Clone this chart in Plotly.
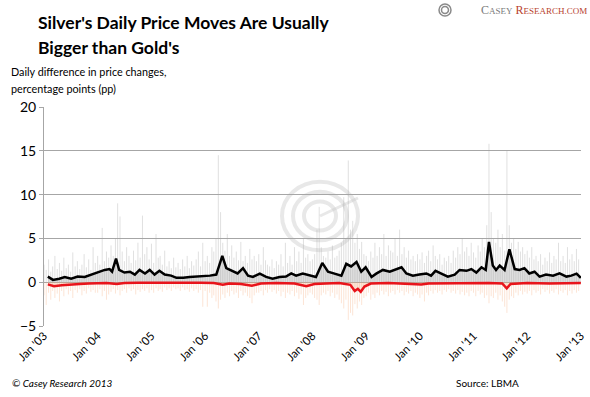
import plotly.graph_objects as go

# ---- data ----
years = list(range(2003, 2013))
tick_vals = [f"{y}-01-01" for y in range(2003, 2014)]
tick_text = [f"Jan '{str(y)[2:]}" for y in range(2003, 2014)]

# smoothed silver-minus-gold absolute daily move (black line)
black_dates = ["2003-01-27","2003-03-03","2003-04-15","2003-05-22","2003-07-05","2003-08-18","2003-10-05","2003-11-18",
               "2004-01-01","2004-02-18","2004-03-22","2004-04-08","2004-05-05","2004-05-26","2004-07-01","2004-08-08",
               "2004-09-10","2004-10-12","2004-11-18","2004-12-20","2005-01-22","2005-02-24","2005-04-01","2005-05-15",
               "2005-06-20","2005-08-05","2005-09-17","2005-11-03","2005-12-17","2006-02-03","2006-03-18","2006-04-28",
               "2006-05-25","2006-07-08","2006-08-10","2006-09-16","2006-10-20","2006-11-22","2007-01-08","2007-02-20",
               "2007-04-05","2007-05-22","2007-07-05","2007-08-10","2007-09-12","2007-10-27","2007-12-12","2008-01-25",
               "2008-03-08","2008-04-16","2008-05-30","2008-07-16","2008-08-18","2008-09-20","2008-10-27","2008-11-28",
               "2008-12-28","2009-02-06","2009-03-10","2009-04-24","2009-06-10","2009-07-23","2009-08-29","2009-10-01",
               "2009-11-14","2009-12-28","2010-02-14","2010-03-18","2010-04-17","2010-05-27","2010-07-10","2010-08-26",
               "2010-09-28","2010-11-14","2010-12-17","2011-01-20","2011-02-24","2011-03-25","2011-04-16","2011-05-12",
               "2011-06-03","2011-06-28","2011-07-31","2011-09-02","2011-10-08","2011-11-10","2011-12-13","2012-01-15",
               "2012-02-20","2012-03-25","2012-05-08","2012-06-25","2012-08-08","2012-09-24","2012-10-27","2012-12-02",
               "2012-12-31"]
black_vals = [0.64,0.26,0.4,0.6,0.4,0.64,0.6,0.87,
              1.1,1.4,1.5,1.2,2.7,1.4,1.1,1.2,
              0.87,1.4,1.0,1.4,0.87,1.3,0.87,0.75,
              0.5,0.5,0.6,0.64,0.64,0.75,0.87,3.0,
              1.6,1.3,1.0,1.6,0.75,0.6,0.98,0.6,
              0.4,0.6,0.64,1.0,0.75,0.98,0.75,0.6,
              2.2,1.2,0.98,0.75,2.1,1.8,2.3,1.2,
              1.7,0.6,0.98,1.4,1.2,1.5,1.7,1.0,
              0.75,0.87,1.0,0.75,1.3,0.98,0.64,0.87,
              1.4,1.3,1.5,1.1,1.7,1.4,4.6,1.9,
              1.4,1.9,1.4,3.75,1.5,1.4,1.6,1.0,
              1.2,0.64,0.87,0.75,1.0,0.64,0.75,0.98,
              0.5]

# smoothed negative series (red line)
red_dates = ["2003-01-27","2003-03-10","2003-05-01","2003-07-01","2003-09-01","2003-11-01","2004-01-01","2004-03-01",
             "2004-05-10","2004-07-01","2004-10-01","2005-01-01","2005-06-01","2005-12-01","2006-03-01","2006-05-01",
             "2006-06-15","2006-09-01","2006-11-15","2007-01-15","2007-05-01","2007-09-01","2007-11-20","2008-01-15",
             "2008-04-01","2008-07-01","2008-09-15","2008-10-15","2008-11-05","2008-11-25","2008-12-20","2009-02-01",
             "2009-06-01","2009-11-01","2010-01-10","2010-03-01","2010-08-01","2011-01-01","2011-04-15","2011-07-15",
             "2011-08-15","2011-09-10","2012-01-01","2012-06-01","2012-10-01","2012-12-31"]
red_vals = [-0.25,-0.45,-0.35,-0.25,-0.2,-0.15,-0.1,-0.1,
            -0.2,-0.1,-0.05,-0.05,0.0,-0.05,-0.1,-0.3,
            -0.15,-0.2,-0.4,-0.15,-0.1,-0.15,-0.45,-0.2,
            -0.15,-0.1,-0.3,-1.0,-0.75,-1.1,-0.5,-0.15,
            -0.1,-0.15,-0.25,-0.15,-0.1,-0.1,-0.1,-0.15,
            -0.7,-0.2,-0.1,-0.15,-0.1,-0.1]

# daily spikes (sampled twice a month), positive (gray) and negative (orange)
gray_spikes = {
    2003: [2.0,1.4,2.6,1.2,1.8,3.0,1.5,2.2,1.3,2.8,1.6,2.0,1.2,3.4,1.8,2.4,1.5,2.0,3.2,1.7,2.6,1.4,4.0,2.2],
    2004: [3.0,2.0,6.2,2.4,3.5,2.8,4.2,3.0,5.0,9.0,7.5,3.5,2.4,4.0,3.0,2.2,3.6,2.5,4.5,2.8,7.6,3.2,4.0,2.6],
    2005: [4.4,2.2,5.5,2.8,3.0,2.0,3.6,1.8,2.4,1.6,2.8,1.7,2.2,1.5,2.6,1.8,3.0,1.6,2.4,1.9,2.6,3.5,1.8,4.5],
    2006: [2.4,3.0,2.2,4.0,3.5,5.0,14.5,8.0,4.5,3.6,5.5,3.0,4.2,2.8,3.5,2.5,4.6,2.4,3.0,2.2,3.8,2.6,3.0,2.4],
    2007: [3.2,2.0,4.0,2.5,2.0,1.8,2.6,1.6,2.4,2.0,3.2,1.8,4.5,2.2,3.0,2.0,4.0,2.4,3.5,2.2,5.0,2.8,3.2,2.4],
    2008: [2.6,3.2,6.0,8.6,4.0,3.0,2.8,3.5,2.6,4.2,2.8,3.0,3.6,4.5,9.7,5.0,13.9,6.0,7.0,4.5,5.5,3.8,4.6,3.2],
    2009: [3.0,2.4,3.5,2.8,4.5,3.0,4.0,3.2,5.5,3.0,4.2,3.6,3.4,5.0,3.0,6.0,3.2,4.0,2.8,3.6,2.6,3.0,2.4,3.2],
    2010: [2.6,3.4,2.2,3.0,3.6,2.4,4.2,3.0,2.6,3.2,2.0,2.8,2.4,3.0,2.2,3.6,2.8,4.0,3.2,5.0,3.5,4.0,3.0,4.5],
    2011: [3.4,2.8,4.2,3.5,5.0,4.0,6.5,15.8,8.0,5.0,4.5,6.0,4.0,5.5,3.6,15.0,6.5,4.5,5.0,3.8,4.6,3.5,4.0,3.2],
    2012: [3.6,2.8,4.0,2.6,3.0,2.4,3.2,2.0,2.8,2.4,3.4,2.2,3.0,2.6,4.5,2.4,3.0,2.2,4.0,2.6,3.2,2.4,3.8,2.6],
}
orange_spikes = {
    2003: [-1.5,-2.6,-1.2,-2.0,-1.0,-1.8,-1.3,-2.2,-1.0,-1.6,-0.8,-1.4,-1.0,-1.8,-0.9,-1.2,-0.8,-1.5,-1.0,-1.3,-0.7,-1.1,-0.9,-1.2],
    2004: [-1.2,-0.8,-1.6,-1.0,-2.0,-1.4,-1.1,-0.8,-1.3,-0.9,-1.5,-1.0,-0.8,-1.2,-0.7,-1.0,-0.8,-1.4,-0.9,-1.1,-0.8,-1.0,-0.7,-1.2],
    2005: [-0.9,-1.2,-0.7,-1.0,-0.8,-1.1,-0.6,-0.9,-0.7,-1.0,-0.6,-0.8,-0.7,-1.0,-0.6,-0.9,-0.8,-1.1,-0.7,-1.0,-0.8,-1.2,-0.9,-2.8],
    2006: [-1.0,-2.8,-1.2,-1.8,-1.5,-2.2,-3.0,-2.0,-1.4,-1.8,-1.2,-1.6,-1.0,-1.4,-1.2,-1.8,-1.0,-1.5,-1.2,-1.6,-1.8,-2.4,-1.5,-1.2],
    2007: [-1.2,-1.0,-1.5,-0.9,-1.2,-0.8,-1.1,-0.9,-1.3,-1.0,-1.6,-1.1,-1.8,-1.2,-1.4,-1.0,-1.6,-1.2,-1.9,-1.4,-2.6,-1.8,-1.5,-1.2],
    2008: [-1.4,-1.8,-2.0,-2.6,-1.5,-1.2,-1.4,-1.0,-1.6,-1.2,-1.8,-1.4,-2.0,-2.4,-3.0,-2.0,-4.3,-3.5,-3.8,-2.5,-3.0,-2.2,-2.6,-1.8],
    2009: [-1.6,-1.2,-2.0,-1.4,-1.8,-1.2,-1.5,-1.0,-1.4,-1.1,-1.6,-1.2,-1.0,-1.4,-0.9,-1.2,-1.0,-1.5,-1.1,-1.3,-1.0,-1.6,-1.2,-1.4],
    2010: [-1.8,-1.4,-2.2,-1.2,-1.5,-1.0,-1.3,-0.9,-1.2,-1.0,-1.4,-0.9,-1.1,-0.8,-1.2,-1.0,-1.3,-0.9,-1.4,-1.1,-1.5,-1.2,-1.6,-1.0],
    2011: [-1.2,-1.6,-1.0,-1.4,-1.2,-1.8,-1.5,-2.4,-1.6,-1.8,-1.2,-2.0,-1.5,-2.2,-2.8,-3.5,-2.0,-1.6,-1.8,-1.2,-1.5,-1.0,-1.4,-1.1],
    2012: [-1.3,-1.0,-1.5,-0.9,-1.2,-1.0,-1.4,-0.8,-1.1,-0.9,-1.3,-1.0,-1.2,-0.8,-1.4,-1.0,-1.2,-0.9,-1.5,-1.0,-1.3,-0.9,-1.2,-1.0],
}


def half_month_dates(year):
    return [f"{year}-{k // 2 + 1:02d}-{1 if k % 2 == 0 else 16:02d}" for k in range(24)]


def spike_xy(spikes):
    xs, ys = [], []
    for y in years:
        for d, v in zip(half_month_dates(y), spikes[y]):
            xs += [d, d, None]
            ys += [0, v, None]
    return xs, ys


FONT = "Lato"
L, T, W, H = 44, 107, 537, 219   # plot area in pixels


def px(x):
    return (x - L) / W


def py(y):
    return (T + H - y) / H


fig = go.Figure()

# dense band of daily moves
fig.add_trace(go.Scatter(x=black_dates, y=black_vals, mode="lines", line=dict(width=0),
                         fill="tozeroy", fillcolor="rgba(175,175,175,0.4)", hoverinfo="skip"))
gx, gy = spike_xy(gray_spikes)
fig.add_trace(go.Scatter(x=gx, y=gy, mode="lines", line=dict(color="rgba(165,165,165,0.35)", width=1),
                         hoverinfo="skip"))
fig.add_trace(go.Scatter(x=red_dates, y=red_vals, mode="lines", line=dict(width=0),
                         fill="tozeroy", fillcolor="rgba(245,180,140,0.3)", hoverinfo="skip"))
ox, oy = spike_xy(orange_spikes)
fig.add_trace(go.Scatter(x=ox, y=oy, mode="lines", line=dict(color="rgba(245,165,115,0.3)", width=1),
                         hoverinfo="skip"))
fig.add_trace(go.Scatter(x=red_dates, y=red_vals, mode="lines", line=dict(color="#e8141b", width=2.5)))
fig.add_trace(go.Scatter(x=black_dates, y=black_vals, mode="lines", line=dict(color="#000000", width=2.5)))

# watermark target logo
for r in (38, 27, 16):
    fig.add_shape(type="circle", xref="paper", yref="paper", xsizemode="pixel", ysizemode="pixel",
                  xanchor=px(320), yanchor=py(216), x0=-r, x1=r, y0=-r * 0.9, y1=r * 0.9,
                  line=dict(color="rgba(205,205,205,0.45)", width=4), layer="below")
fig.add_shape(type="line", xref="paper", yref="paper", xsizemode="pixel", ysizemode="pixel",
              xanchor=px(320), yanchor=py(216), x0=0, x1=38, y0=0, y1=18,
              line=dict(color="rgba(205,205,205,0.45)", width=3), layer="below")

# small logo mark next to the brand name
for r in (6, 3.5):
    fig.add_shape(type="circle", xref="paper", yref="paper", xsizemode="pixel", ysizemode="pixel",
                  xanchor=px(445), yanchor=py(10), x0=-r, x1=r, y0=-r, y1=r,
                  line=dict(color="#8a8a8a", width=1.5))

annotations = [
    dict(text="<b>Silver's Daily Price Moves Are Usually</b>", x=px(36), y=py(22), xanchor="left",
         yanchor="middle", font=dict(family=FONT, size=17.5, color="#000")),
    dict(text="<b>Bigger than Gold's</b>", x=px(36), y=py(47), xanchor="left",
         yanchor="middle", font=dict(family=FONT, size=17.5, color="#000")),
    dict(text="Daily difference in price changes,", x=px(9), y=py(71), xanchor="left",
         yanchor="middle", font=dict(family=FONT, size=10.8, color="#000")),
    dict(text="percentage points (pp)", x=px(9), y=py(89), xanchor="left",
         yanchor="middle", font=dict(family=FONT, size=10.8, color="#000")),
    dict(text="<i>© Casey Research 2013</i>", x=px(10), y=py(383), xanchor="left", yanchor="middle",
         font=dict(family=FONT, size=10, color="#000")),
    dict(text="Source: LBMA", x=px(454), y=py(383), xanchor="left", yanchor="middle",
         font=dict(family=FONT, size=10, color="#000")),
    dict(text="<span style='color:#7a7a7a'>C<span style='font-size:9px'>ASEY</span></span> "
              "<span style='color:#b8432f'>R<span style='font-size:9px'>ESEARCH.COM</span></span>",
         x=px(589), y=py(10), xanchor="right", yanchor="middle",
         font=dict(family="Liberation Serif", size=12)),
]
for a in annotations:
    a.update(xref="paper", yref="paper", showarrow=False)

fig.update_layout(
    width=590, height=397,
    margin=dict(l=L, r=590 - L - W, t=T, b=397 - T - H),
    paper_bgcolor="white", plot_bgcolor="white",
    showlegend=False,
    annotations=annotations,
    xaxis=dict(type="date", range=["2003-01-01", "2013-01-01"], tickvals=tick_vals, ticktext=tick_text,
               tickangle=-45, showgrid=False, zeroline=False, showline=False, automargin=False,
               tickfont=dict(family=FONT, size=11.5, color="#000")),
    yaxis=dict(range=[-5, 20], dtick=5, tick0=0, showgrid=True, gridcolor="#a6a6a6", gridwidth=1,
               zeroline=False, showline=True, linecolor="#a6a6a6", ticks="outside", ticklen=4,
               tickcolor="#a6a6a6", automargin=False, tickfont=dict(family=FONT, size=14, color="#000")),
)

fig.write_html("out.html", config={"displayModeBar": False},
               post_script="document.body.style.margin='0px';")
